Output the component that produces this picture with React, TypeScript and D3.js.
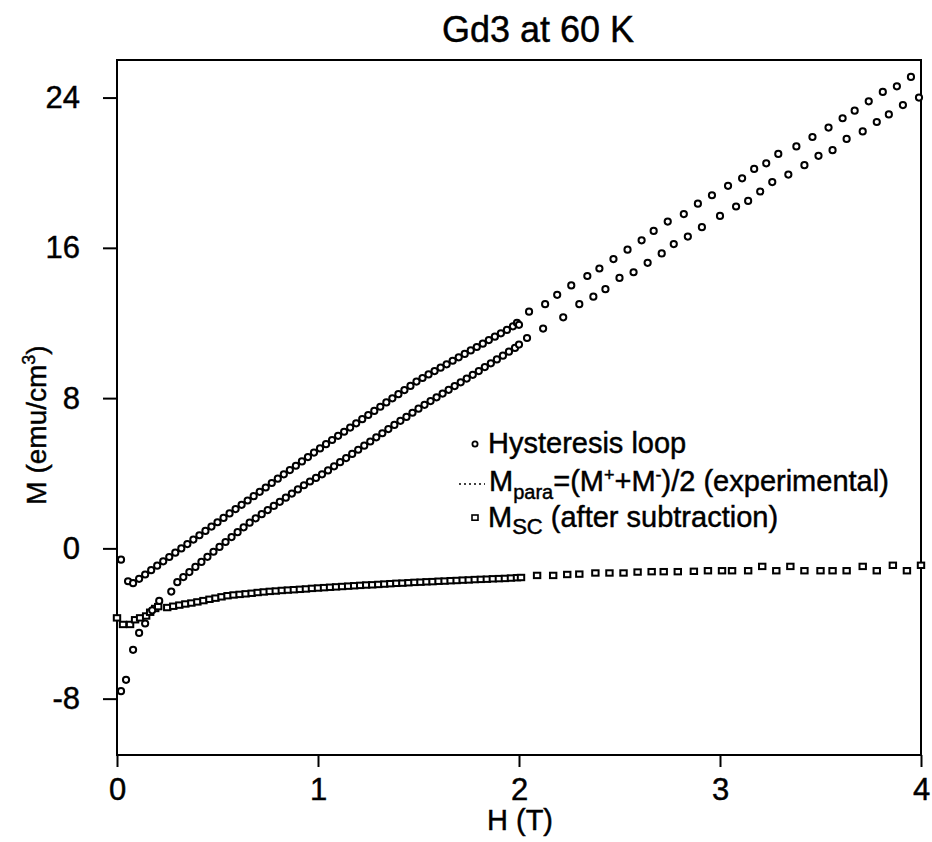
import React, { useEffect, useRef } from "react";
import * as d3 from "d3";

// Axis extents and tick values
const fieldDomain: [number, number] = [0, 4];
const momentDomain: [number, number] = [-11, 26];
const fieldTicks = [0, 1, 2, 3, 4];
const momentTicks = [-8, 0, 8, 16, 24];

// Hysteresis loop, upper branch (H in T, M in emu/cm^3)
const loopUpper: [number, number][] = [
  [0.02, -0.6], [0.055, -1.75], [0.08, -1.85], [0.11, -1.62], [0.14, -1.39], [0.17, -1.16],
  [0.2, -0.92], [0.23, -0.69], [0.26, -0.46], [0.29, -0.23], [0.32, 0.0], [0.35, 0.23],
  [0.38, 0.47], [0.41, 0.7], [0.44, 0.93], [0.47, 1.16], [0.5, 1.39], [0.53, 1.62],
  [0.56, 1.86], [0.59, 2.09], [0.62, 2.32], [0.65, 2.55], [0.68, 2.78], [0.71, 3.01],
  [0.74, 3.24], [0.77, 3.48], [0.8, 3.71], [0.83, 3.94], [0.86, 4.17], [0.89, 4.4],
  [0.92, 4.63], [0.95, 4.86], [0.98, 5.1], [1.01, 5.32], [1.04, 5.55], [1.07, 5.77],
  [1.1, 5.99], [1.13, 6.21], [1.16, 6.43], [1.19, 6.66], [1.22, 6.88], [1.25, 7.1],
  [1.28, 7.32], [1.31, 7.54], [1.34, 7.77], [1.37, 7.99], [1.4, 8.21], [1.43, 8.43],
  [1.46, 8.65], [1.49, 8.88], [1.52, 9.07], [1.55, 9.26], [1.58, 9.44], [1.61, 9.62],
  [1.64, 9.8], [1.67, 9.99], [1.7, 10.17], [1.73, 10.35], [1.76, 10.54], [1.79, 10.72],
  [1.82, 10.9], [1.85, 11.09], [1.88, 11.27], [1.91, 11.45], [1.94, 11.63], [1.97, 11.82],
  [1.99, 12.0], [2.0, 11.9],
  [2.05, 12.6], [2.13, 13.0], [2.19, 13.5], [2.26, 14.0], [2.34, 14.5], [2.4, 14.9],
  [2.47, 15.4], [2.54, 15.9], [2.61, 16.4], [2.67, 16.9], [2.74, 17.4], [2.82, 17.8],
  [2.89, 18.35], [2.96, 18.8], [3.04, 19.3], [3.11, 19.7], [3.17, 20.2], [3.23, 20.5],
  [3.29, 21.0], [3.38, 21.4], [3.46, 21.9], [3.54, 22.4], [3.61, 22.9], [3.67, 23.3],
  [3.74, 23.8], [3.81, 24.3], [3.88, 24.6], [3.95, 25.1],
];

// Hysteresis loop, lower branch
const loopLower: [number, number][] = [
  [0.02, -7.6], [0.045, -7.0], [0.08, -5.4], [0.11, -4.5], [0.14, -4.0], [0.175, -3.3],
  [0.21, -2.8], [0.27, -2.3], [0.3, -1.8], [0.33, -1.53], [0.36, -1.26], [0.39, -0.99],
  [0.42, -0.72], [0.45, -0.45], [0.48, -0.18], [0.51, 0.08], [0.54, 0.34], [0.57, 0.6],
  [0.6, 0.86], [0.63, 1.12], [0.66, 1.37], [0.69, 1.6], [0.72, 1.82], [0.75, 2.04],
  [0.78, 2.26], [0.81, 2.48], [0.84, 2.7], [0.87, 2.92], [0.9, 3.14], [0.93, 3.36],
  [0.96, 3.56], [0.99, 3.75], [1.02, 3.94], [1.05, 4.15], [1.08, 4.37], [1.11, 4.59],
  [1.14, 4.81], [1.17, 5.03], [1.2, 5.25], [1.23, 5.47], [1.26, 5.69], [1.29, 5.91],
  [1.32, 6.13], [1.35, 6.35], [1.38, 6.57], [1.41, 6.79], [1.44, 7.0], [1.47, 7.22],
  [1.5, 7.44], [1.53, 7.64], [1.56, 7.84], [1.59, 8.04], [1.62, 8.24], [1.65, 8.44],
  [1.68, 8.64], [1.71, 8.84], [1.74, 9.04], [1.77, 9.24], [1.8, 9.44], [1.83, 9.65],
  [1.86, 9.85], [1.89, 10.06], [1.92, 10.26], [1.95, 10.47], [1.98, 10.67], [2.0, 10.85],
  [2.04, 11.2], [2.12, 11.7], [2.22, 12.3], [2.3, 13.0], [2.37, 13.4], [2.43, 13.8],
  [2.5, 14.4], [2.57, 14.7], [2.64, 15.2], [2.71, 15.7], [2.77, 16.2], [2.84, 16.6],
  [2.91, 17.1], [3.0, 17.7], [3.08, 18.2], [3.14, 18.5], [3.2, 19.0], [3.26, 19.5],
  [3.34, 19.9], [3.42, 20.4], [3.49, 20.9], [3.56, 21.2], [3.63, 21.8], [3.71, 22.2],
  [3.78, 22.7], [3.84, 23.1], [3.91, 23.6], [3.99, 24.0],
];

// Superconducting contribution after subtraction of the paramagnetic part
const mscPoints: [number, number][] = [
  [0.0, -3.7], [0.03, -4.05], [0.065, -4.05], [0.09, -3.8], [0.115, -3.7], [0.145, -3.6],
  [0.165, -3.4], [0.19, -3.2], [0.205, -3.1],
  [0.25, -3.15], [0.28, -3.08], [0.31, -3.02], [0.34, -2.96], [0.37, -2.91], [0.4, -2.85],
  [0.43, -2.78], [0.46, -2.71], [0.49, -2.65], [0.52, -2.58], [0.55, -2.52], [0.58, -2.48],
  [0.61, -2.45], [0.64, -2.42], [0.67, -2.39], [0.7, -2.35], [0.73, -2.32], [0.76, -2.29],
  [0.79, -2.27], [0.82, -2.24], [0.85, -2.22], [0.88, -2.2], [0.91, -2.18], [0.94, -2.16],
  [0.97, -2.13], [1.0, -2.11], [1.03, -2.09], [1.06, -2.07], [1.09, -2.05], [1.12, -2.03],
  [1.15, -2.01], [1.18, -1.99], [1.21, -1.97], [1.24, -1.95], [1.27, -1.94], [1.3, -1.92],
  [1.33, -1.9], [1.36, -1.88], [1.39, -1.86], [1.42, -1.85], [1.45, -1.83], [1.48, -1.81],
  [1.51, -1.8], [1.54, -1.78], [1.57, -1.77], [1.6, -1.75], [1.63, -1.74], [1.66, -1.72],
  [1.69, -1.71], [1.72, -1.69], [1.75, -1.68], [1.78, -1.66], [1.81, -1.65], [1.84, -1.64],
  [1.87, -1.62], [1.9, -1.61], [1.93, -1.6], [1.96, -1.58], [1.99, -1.56], [2.01, -1.55],
  [2.09, -1.44], [2.17, -1.44], [2.24, -1.39], [2.3, -1.37], [2.38, -1.31], [2.45, -1.31],
  [2.52, -1.31], [2.59, -1.26], [2.66, -1.24], [2.72, -1.24], [2.79, -1.24], [2.87, -1.22],
  [2.94, -1.19], [3.01, -1.19], [3.06, -1.19], [3.14, -1.19], [3.21, -0.96], [3.28, -1.19],
  [3.35, -0.96], [3.42, -1.19], [3.5, -1.19], [3.56, -1.19], [3.63, -1.19], [3.71, -0.96],
  [3.78, -1.19], [3.86, -0.9], [3.93, -1.19], [4.0, -0.9],
];

const FONT = "'Liberation Sans', Arial, Helvetica, sans-serif";
const INK = "#000";
// thin outline on glyphs to give the lettering its printed weight
const textWeight = { stroke: INK, strokeWidth: 0.45 };

export default function App() {
  const xAxisRef = useRef<SVGGElement>(null);
  const yAxisRef = useRef<SVGGElement>(null);

  const x = d3.scaleLinear().domain(fieldDomain).range([117, 921]);
  const y = d3.scaleLinear().domain(momentDomain).range([755, 60]);

  useEffect(() => {
    const xAxis = d3
      .axisBottom(x)
      .tickValues(fieldTicks)
      .tickSize(12)
      .tickPadding(11)
      .tickFormat((d) => String(d));
    const yAxis = d3
      .axisLeft(y)
      .tickValues(momentTicks)
      .tickSize(14)
      .tickPadding(23)
      .tickFormat((d) => String(d));

    const gx = d3.select(xAxisRef.current!);
    gx.call(xAxis as any);
    gx.select(".domain").remove();
    gx.attr("font-family", FONT).attr("font-size", 31);
    gx.selectAll(".tick line").attr("stroke", INK).attr("stroke-width", 2);
    gx.selectAll(".tick text").attr("fill", INK).attr("stroke", INK).attr("stroke-width", 0.45);

    const gy = d3.select(yAxisRef.current!);
    gy.call(yAxis as any);
    gy.select(".domain").remove();
    gy.attr("font-family", FONT).attr("font-size", 31);
    gy.selectAll(".tick line").attr("stroke", INK).attr("stroke-width", 2);
    gy.selectAll(".tick text").attr("fill", INK).attr("stroke", INK).attr("stroke-width", 0.45);
  }, []);

  const circleStyle = { fill: "#fff", stroke: INK, strokeWidth: 2 };

  return (
    <svg
      width={932}
      height={842}
      style={{ position: "absolute", left: 0, top: 0, background: "#fff" }}
      fontFamily={FONT}
    >
      <rect x={0} y={0} width={932} height={842} fill="#fff" />

      {/* Title */}
      <text x={538} y={42} textAnchor="middle" fontSize={36} {...textWeight}>
        Gd3 at 60 K
      </text>

      {/* Plot frame */}
      <rect
        x={x(fieldDomain[0])}
        y={y(momentDomain[1])}
        width={x(fieldDomain[1]) - x(fieldDomain[0])}
        height={y(momentDomain[0]) - y(momentDomain[1])}
        fill="none"
        stroke={INK}
        strokeWidth={2}
      />

      <g ref={xAxisRef} transform={`translate(0,${y(momentDomain[0])})`} />
      <g ref={yAxisRef} transform={`translate(${x(fieldDomain[0])},0)`} />

      {/* Axis titles */}
      <text x={520} y={830} textAnchor="middle" fontSize={29} {...textWeight}>
        H (T)
      </text>
      <text transform="translate(46,425) rotate(-90)" textAnchor="middle" fontSize={28} {...textWeight}>
        M (emu/cm
        <tspan dy={-11} fontSize={18}>3</tspan>
        <tspan dy={11}>)</tspan>
      </text>

      {/* M_SC squares */}
      <g>
        {mscPoints.map(([h, m], i) => (
          <rect
            key={`s${i}`}
            x={x(h) - 3.2}
            y={y(m) - 2.7}
            width={6.4}
            height={5.4}
            fill="#fff"
            stroke={INK}
            strokeWidth={2}
          />
        ))}
      </g>

      {/* Hysteresis loop circles */}
      <g>
        {loopLower.map(([h, m], i) => (
          <circle key={`l${i}`} cx={x(h)} cy={y(m)} r={3.1} {...circleStyle} />
        ))}
        {loopUpper.map(([h, m], i) => (
          <circle key={`u${i}`} cx={x(h)} cy={y(m)} r={3.1} {...circleStyle} />
        ))}
      </g>

      {/* Legend */}
      <g fontSize={29} {...textWeight}>
        <circle cx={475} cy={444} r={2.6} fill="#fff" stroke={INK} strokeWidth={1.8} />
        <text x={488} y={453}>Hysteresis loop</text>

        <line x1={459} x2={485} y1={484} y2={484} stroke={INK} strokeWidth={1.3} strokeDasharray="2,3" />
        <text x={489} y={491}>
          M
          <tspan dy={8} fontSize={20}>para</tspan>
          <tspan dy={-8}>=(M</tspan>
          <tspan dy={-10} fontSize={18}>+</tspan>
          <tspan dy={10}>+M</tspan>
          <tspan dy={-10} fontSize={18}>-</tspan>
          <tspan dy={10}>)/2 (experimental)</tspan>
        </text>

        <rect x={472} y={515} width={6} height={5.2} fill="#fff" stroke={INK} strokeWidth={1.6} />
        <text x={488} y={527}>
          M
          <tspan dy={7} fontSize={22}>SC</tspan>
          <tspan dy={-7}> (after subtraction)</tspan>
        </text>
      </g>
    </svg>
  );
}
